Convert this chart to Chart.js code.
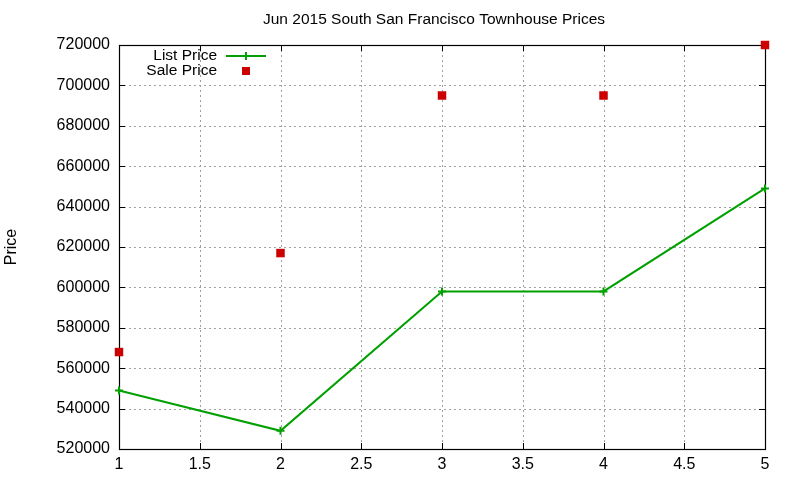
<!DOCTYPE html>
<html>
<head>
<meta charset="utf-8">
<script src="https://cdn.jsdelivr.net/npm/chart.js@4"></script>
<style>
html,body{margin:0;padding:0;background:#fff;}
#wrap{width:800px;height:480px;}
</style>
</head>
<body>
<div id="wrap"><canvas id="c" width="800" height="480"></canvas></div>
<script>
const titleText = "Jun 2015 South San Francisco Townhouse Prices";
const yTitle = "Price";
const xValues = [1, 2, 3, 4, 5];
const listPrice = [549000, 529000, 598000, 598000, 649000];
const salePrice = [568000, 617000, 695000, 695000, 720000];
const seriesNames = ["List Price", "Sale Price"];
const yMin = 520000, yMax = 720000, yStep = 20000;
const xMin = 1, xMax = 5, xStep = 0.5;

const FONT = "'Liberation Sans', Arial, sans-serif";
const GREEN = "#00a000";
const RED = "#cc0000";

const decor = {
  id: 'decor',
  beforeDatasetsDraw(chart) {
    const ctx = chart.ctx, a = chart.chartArea;
    const xs = chart.scales.x, ys = chart.scales.y;
    ctx.save();
    ctx.strokeStyle = '#a0a0a0';
    ctx.lineWidth = 1;
    ctx.setLineDash([2, 3]);
    for (let v = xMin + xStep; v < xMax; v += xStep) {
      const px = Math.round(xs.getPixelForValue(v)) + 0.5;
      ctx.beginPath(); ctx.moveTo(px, a.top); ctx.lineTo(px, a.bottom); ctx.stroke();
    }
    for (let v = yMin + yStep; v < yMax; v += yStep) {
      const py = Math.round(ys.getPixelForValue(v)) + 0.5;
      ctx.beginPath(); ctx.moveTo(a.left, py); ctx.lineTo(a.right, py); ctx.stroke();
    }
    ctx.setLineDash([]);
    ctx.strokeStyle = '#000';
    for (let v = xMin; v <= xMax + 1e-9; v += xStep) {
      const px = Math.round(xs.getPixelForValue(v)) + 0.5;
      ctx.beginPath(); ctx.moveTo(px, a.bottom); ctx.lineTo(px, a.bottom - 6); ctx.stroke();
      ctx.beginPath(); ctx.moveTo(px, a.top); ctx.lineTo(px, a.top + 6); ctx.stroke();
    }
    for (let v = yMin; v <= yMax + 1e-9; v += yStep) {
      const py = Math.round(ys.getPixelForValue(v)) + 0.5;
      ctx.beginPath(); ctx.moveTo(a.left, py); ctx.lineTo(a.left + 6, py); ctx.stroke();
      ctx.beginPath(); ctx.moveTo(a.right, py); ctx.lineTo(a.right - 6, py); ctx.stroke();
    }
    ctx.lineWidth = 1.2;
    ctx.strokeRect(Math.round(a.left) + 0.5, Math.round(a.top) + 0.5, Math.round(a.right - a.left), Math.round(a.bottom - a.top));
    ctx.restore();
  },
  afterDraw(chart) {
    const ctx = chart.ctx;
    ctx.save();
    ctx.fillStyle = '#000';
    ctx.font = "15.5px " + FONT;
    ctx.textAlign = 'center';
    ctx.textBaseline = 'middle';
    ctx.fillText(titleText, 434, 20);
    ctx.save();
    ctx.font = "16px " + FONT;
    ctx.translate(12, 247);
    ctx.rotate(-Math.PI / 2);
    ctx.fillText(yTitle, 0, 0);
    ctx.restore();
    ctx.font = "15.5px " + FONT;
    ctx.textAlign = 'right';
    ctx.fillText(seriesNames[0], 217, 56);
    ctx.fillText(seriesNames[1], 217, 71);
    ctx.strokeStyle = GREEN;
    ctx.lineWidth = 2;
    ctx.beginPath(); ctx.moveTo(226, 56); ctx.lineTo(266, 56); ctx.stroke();
    ctx.beginPath(); ctx.moveTo(246, 52); ctx.lineTo(246, 60); ctx.moveTo(242, 56); ctx.lineTo(250, 56); ctx.stroke();
    ctx.fillStyle = RED;
    ctx.fillRect(242, 67, 8, 8);
    ctx.restore();
  }
};

new Chart(document.getElementById('c'), {
  type: 'scatter',
  data: {
    datasets: [
      {
        label: seriesNames[0],
        data: xValues.map((x, i) => ({x: x, y: listPrice[i]})),
        showLine: true,
        borderColor: GREEN,
        backgroundColor: GREEN,
        borderWidth: 2,
        pointStyle: 'cross',
        pointRadius: 4,
        pointBorderWidth: 2,
        pointBorderColor: GREEN,
        tension: 0,
        clip: false
      },
      {
        label: seriesNames[1],
        data: xValues.map((x, i) => ({x: x, y: salePrice[i]})),
        showLine: false,
        borderColor: RED,
        backgroundColor: RED,
        pointStyle: 'rect',
        pointRadius: 6,
        pointBorderWidth: 0,
        clip: false
      }
    ]
  },
  options: {
    responsive: false,
    animation: false,
    devicePixelRatio: 1,
    layout: {padding: {top: 45, right: 35, left: 0, bottom: 0}},
    plugins: {legend: {display: false}, tooltip: {enabled: false}, title: {display: false}},
    scales: {
      x: {
        type: 'linear', min: xMin, max: xMax,
        grid: {display: false, drawTicks: false},
        border: {display: false},
        ticks: {stepSize: xStep, color: '#000', font: {family: FONT, size: 16}, padding: 6,
          callback: v => String(v)},
        afterFit(s) { s.height = 31; }
      },
      y: {
        type: 'linear', min: yMin, max: yMax,
        grid: {display: false, drawTicks: false},
        border: {display: false},
        ticks: {stepSize: yStep, color: '#000', font: {family: FONT, size: 16}, padding: 9,
          callback: v => String(v)},
        afterFit(s) { s.width = 119; }
      }
    }
  },
  plugins: [decor]
});
</script>
</body>
</html>
